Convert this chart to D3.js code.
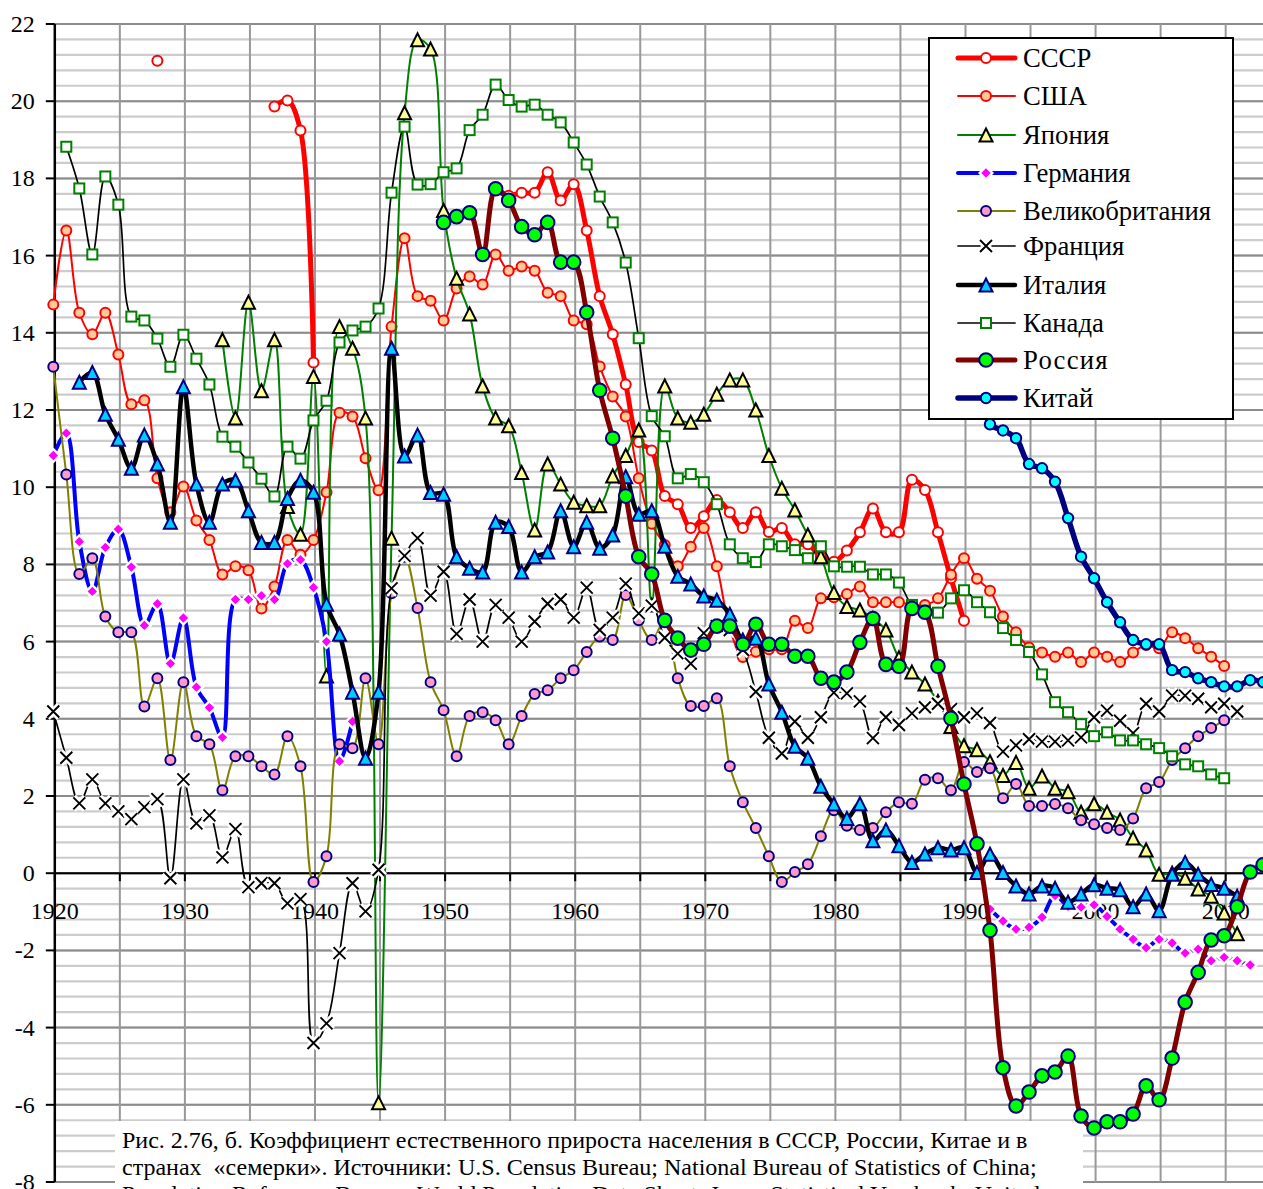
<!DOCTYPE html>
<html>
<head>
<meta charset="utf-8">
<script src="https://cdn.jsdelivr.net/npm/d3@7"></script>
<style>
  html, body { margin: 0; padding: 0; background: #fff; overflow: hidden; }
  text { font-family: "Liberation Serif", "Times New Roman", serif; fill: #000; }
  .caption { white-space: pre; }
</style>
</head>
<body>
<div id="chart"></div>
<script>
var nulls = function (n) { return Array(n).fill(null); };

// every array starts in firstYear, null = no data for that year
var firstYear = 1920;
var lastYear = 2013;

var ussr = [...nulls(8), 21.05, ...nulls(8), 19.86, 20.02, 19.24, 13.23, ...nulls(13),
  17.7, 17.55, 17.63, 17.63, 18.16, 17.43, 17.85, 16.65, 14.95, 13.96, 12.66, 11.17, 10.95,
  9.77, 9.56, 8.94, 9.25, 9.67, 9.35, 8.94, 9.35, 8.84, 8.94, 8.52, 8.52, 8.2, 8.07,
  8.36, 8.83, 9.45, 8.83, 8.83, 10.19, 9.93, 8.83, 7.64, 6.54];

var usa = [14.73, 16.65, 14.52, 13.96, 14.52, 13.44, 12.15, 12.25, 10.23, 9.35,
  10.02, 9.14, 8.63, 7.74, 7.95, 7.85, 6.86, 7.43, 8.63, 8.25,
  8.63, 9.87, 11.93, 11.83, 10.75, 9.92, 14.16, 16.45, 14.95, 14.83,
  14.32, 15.15, 15.46, 15.25, 16.03, 15.61, 15.72, 15.61, 15.04, 14.95,
  14.32, 14.22, 13.13, 12.35, 11.83, 10.23, 9.05, 8.5, 7.95, 8.46,
  8.94, 7.95, 6.35, 5.6, 5.74, 5.8, 5.8, 6.54, 6.35, 7.12,
  7.15, 7.23, 7.43, 7.02, 7.02, 7.02, 6.95, 6.95, 7.12, 7.73,
  8.16, 7.63, 7.32, 6.65, 6.24, 5.85, 5.72, 5.61, 5.72, 5.47,
  5.72, 5.61, 5.47, 5.72, 5.91, 5.83, 6.24, 6.09, 5.83, 5.61, 5.37];

var japan = [...nulls(13), 13.82, 11.79, 14.79, 12.5, 13.82, 9.5, 8.78,
  12.87, 5.11, 14.16, 13.6, 11.79, -5.95, 8.68, 19.7, 21.59, 21.35,
  17.17, 15.41, 14.49, 12.62, 11.79, 11.59, 10.38, 8.89, 10.6, 10.08,
  9.61, 9.52, 9.52, 10.29, 10.82, 11.48, 6.95, 12.62, 11.79, 11.68,
  11.89, 12.41, 12.78, 12.78, 12.0, 10.82, 9.97, 9.41, 8.76, 8.2,
  7.27, 6.91, 6.82, 6.6, 6.3, 5.58, 5.21, 4.9, 4.45, 3.8,
  3.3, 3.2, 2.89, 2.53, 2.87, 2.2, 2.52, 2.2, 2.11, 1.58,
  1.8, 1.58, 1.38, 0.91, 0.6, -0.03, 0.0, -0.13, -0.41, -0.6, -1.03, -1.57];

var germany = [10.82, 11.4, 8.59, 7.3, 8.44, 8.91, 7.93, 6.42, 6.98, 5.43,
  6.61, 4.82, 4.29, 3.52, 7.09, 7.09, 7.19, 7.09, 8.02, 8.12,
  7.4, 6.0, 2.9, 3.93, ...nulls(48),
  -0.93, -1.24, -1.45, -1.4, -1.14, -0.58, -0.86, -0.88,
  -0.82, -1.12, -1.45, -1.71, -1.93, -1.71, -1.81, -2.07, -1.97, -2.27,
  -2.18, -2.27, -2.38];

var britain = [13.12, 10.33, 7.75, 8.16, 6.65, 6.24, 6.24, 4.32, 5.05, 2.93,
  4.95, 3.55, 3.34, 2.15, 3.03, 3.03, 2.77, 2.56, 3.55, 2.77,
  -0.23, 0.44, 3.34, 3.24, 5.05, 3.34, 7.25, 8.2, 6.87, 4.95,
  4.22, 3.03, 4.07, 4.17, 3.96, 3.34, 4.07, 4.64, 4.74, 5.05,
  5.26, 5.73, 6.13, 6.04, 7.21, 6.55, 6.04, 6.55, 5.05, 4.33,
  4.33, 4.53, 2.77, 1.84, 1.17, 0.44, -0.23, 0.03, 0.23, 0.96,
  1.63, 1.23, 1.12, 1.17, 1.58, 1.84, 1.8, 2.42, 2.46, 2.15,
  2.88, 2.62, 2.72, 1.94, 2.31, 1.74, 1.74, 1.79, 1.68, 1.37,
  1.27, 1.17, 1.12, 1.42, 2.2, 2.36, 2.93, 3.24, 3.55, 3.76, 3.96];

var france = [4.19, 2.99, 1.81, 2.43, 1.81, 1.6, 1.4, 1.71, 1.92, -0.13,
  2.43, 1.29, 1.5, 0.41, 1.14, -0.36, -0.26, -0.26, -0.78, -0.67,
  -4.4, -3.89, -2.07, -0.26, -0.99, 0.09, 7.38, 8.22, 8.68, 7.19,
  7.81, 6.2, 7.09, 6.0, 6.95, 6.62, 6.0, 6.52, 6.98, 7.09,
  6.62, 7.4, 6.3, 6.62, 7.5, 6.73, 6.93, 6.1, 5.69, 5.43,
  6.22, 6.4, 6.3, 5.79, 4.7, 3.51, 3.1, 3.93, 3.51, 4.04,
  4.68, 4.66, 4.45, 3.5, 4.04, 3.84, 4.14, 4.3, 4.39, 4.25,
  4.04, 4.14, 3.89, 3.15, 3.31, 3.47, 3.41, 3.41, 3.44, 3.52,
  4.04, 4.21, 3.95, 3.63, 4.39, 4.19, 4.6, 4.6, 4.52, 4.3, 4.39, 4.19];

var italy = [null, null, 12.72, 12.97, 11.89, 11.24, 10.49, 11.35, 10.6, 9.09,
  12.6, 10.08, 9.09, 10.08, 10.18, 9.39, 8.57, 8.57, 9.71, 10.18,
  9.87, 6.97, 6.19, 4.69, 2.98, 4.69, 13.6, 10.81, 11.35, 9.86,
  9.82, 8.2, 7.9, 7.8, 9.09, 8.98, 7.8, 8.2, 8.32, 9.39,
  8.46, 9.09, 8.42, 8.76, 10.27, 9.3, 9.39, 8.47, 7.69, 7.49,
  7.18, 7.07, 6.71, 6.04, 6.09, 4.9, 4.17, 3.29, 2.98, 2.25,
  1.79, 1.42, 1.8, 0.84, 1.12, 0.71, 0.28, 0.5, 0.66, 0.6,
  0.66, 0.02, 0.49, 0.02, -0.33, -0.54, -0.33, -0.39, -0.75, -0.54,
  -0.3, -0.39, -0.43, -0.87, -0.54, -0.97, -0.03, 0.28, -0.03, -0.29, -0.39, -0.6];

var canada = [null, 18.82, 17.74, 16.03, 18.05, 17.32, 14.42, 14.32, 13.85, 13.12,
  13.95, 13.33, 12.66, 11.31, 11.05, 10.64, 10.22, 9.76, 11.05, 10.74,
  11.73, 12.24, 13.75, 14.06, 14.16, 14.63, 17.63, 19.34, 17.84, 17.85,
  18.16, 18.26, 19.25, 19.65, 20.43, 20.03, 19.86, 19.91, 19.65, 19.45,
  18.93, 18.36, 17.53, 16.86, 15.82, 13.86, 11.84, 11.32, 10.23, 10.34,
  10.13, 9.56, 8.52, 8.16, 8.06, 8.52, 8.47, 8.37, 8.16, 8.47,
  7.95, 7.94, 7.94, 7.74, 7.74, 7.53, 6.95, 6.8, 6.75, 7.12,
  7.33, 7.02, 6.76, 6.35, 6.04, 5.73, 5.15, 4.43, 4.17, 3.86,
  3.55, 3.65, 3.44, 3.44, 3.34, 3.24, 3.03, 2.82, 2.77, 2.56, 2.46];

var russia = [...nulls(30),
  16.86, 17.01, 17.11, 16.03, 17.73, 17.43, 16.75, 16.54, 16.86, 15.83,
  15.83, 14.53, 12.51, 11.27, 9.77, 8.2, 7.75, 6.55, 6.09, 5.78,
  5.93, 6.4, 6.4, 5.93, 6.45, 5.93, 5.93, 5.62, 5.62, 5.05,
  4.95, 5.21, 5.98, 6.6, 5.41, 5.36, 6.86, 6.76, 5.36, 4.01,
  2.31, 0.76, -1.48, -5.04, -6.03, -5.67, -5.25, -5.15, -4.74, -6.29,
  -6.6, -6.44, -6.44, -6.24, -5.51, -5.87, -4.79, -3.34, -2.57, -1.73,
  -1.62, -0.87, 0.03, 0.22];

var china = [...nulls(71), 12.98, 11.63, 11.47, 11.27, 10.6, 10.49, 10.14, 9.2, 8.2,
  7.64, 7.02, 6.5, 6.04, 5.93, 5.93, 5.26, 5.21, 5.05, 4.95,
  4.84, 4.84, 5.0, 4.95];

var captionLines = [
  'Рис. 2.76, б. Коэффициент естественного прироста населения в СССР, России, Китае и в',
  'странах  «семерки». Источники: U.S. Census Bureau; National Bureau of Statistics of China;',
  'Population Reference Bureau; World Population Data Sheet; Japan Statistical Yearbook; United'
];

// drawing order is the legend order
var seriesList = [
  {name: 'СССР', values: ussr, line: '#ff0000', lw: 5, marker: 'circle', r: 5, fill: '#ffffff', edge: '#ff0000'},
  {name: 'США', values: usa, line: '#ff0000', lw: 2, marker: 'circle', r: 5, fill: '#ffcc99', edge: '#ff0000'},
  {name: 'Япония', values: japan, line: '#008000', lw: 2, marker: 'triangle', r: 6.5, fill: '#ffff99', edge: '#000000'},
  {name: 'Германия', values: germany, line: '#0000ff', lw: 4, marker: 'diamond', r: 4.7, fill: '#ff00ff', edge: 'none'},
  {name: 'Великобритания', values: britain, line: '#808000', lw: 2, marker: 'circle', r: 5, fill: '#ff99cc', edge: '#000080'},
  {name: 'Франция', values: france, line: '#000000', lw: 1.7, marker: 'cross', r: 6, fill: 'none', edge: '#000000'},
  {name: 'Италия', values: italy, line: '#000000', lw: 4.5, marker: 'triangle', r: 6.5, fill: '#00ccff', edge: '#000080'},
  {name: 'Канада', values: canada, line: '#000000', lw: 1.7, marker: 'square', r: 5, fill: '#ffffff', edge: '#008000'},
  {name: 'Россия', values: russia, line: '#800000', lw: 5, marker: 'circle', r: 6.8, fill: '#00ff00', edge: '#000080'},
  {name: 'Китай', values: china, line: '#000080', lw: 5.5, marker: 'circle', r: 5.2, fill: '#00ffff', edge: '#000080'}
];

var width = 1263;
var height = 1189;
var gridShift = 1.5;

var svg = d3.select('#chart').append('svg')
  .attr('width', width)
  .attr('height', height)
  .style('display', 'block');

var x = d3.scaleLinear().domain([firstYear, lastYear]).range([53.3, 1263.2]);
var y = d3.scaleLinear().domain([-8, 22]).range([1182, 24]);

// grid
var grid = svg.append('g');
grid.selectAll('.minor')
  .data(d3.range(-8, 22.01, 0.4).map(function (d) { return +d.toFixed(1); }))
  .enter().append('line')
  .attr('x1', x(firstYear) + gridShift).attr('x2', width)
  .attr('y1', function (d) { return y(d); }).attr('y2', function (d) { return y(d); })
  .attr('stroke', '#cccccc').attr('stroke-width', 2.2);
grid.selectAll('.major')
  .data(d3.range(-8, 23, 2))
  .enter().append('line')
  .attr('x1', x(firstYear) + gridShift).attr('x2', width)
  .attr('y1', function (d) { return y(d); }).attr('y2', function (d) { return y(d); })
  .attr('stroke', '#8c8c8c').attr('stroke-width', 2);
grid.selectAll('.vert')
  .data(d3.range(1925, 2011, 5))
  .enter().append('line')
  .attr('x1', function (d) { return x(d) + gridShift; }).attr('x2', function (d) { return x(d) + gridShift; })
  .attr('y1', y(22)).attr('y2', y(-8))
  .attr('stroke', '#999999').attr('stroke-width', 2);

// axes
var yAxis = d3.axisLeft(y)
  .tickValues(d3.range(-8, 23, 2))
  .tickFormat(function (d) { return String(d); })
  .tickSize(9)
  .tickPadding(11)
  .tickSizeOuter(0)
  .offset(0);
var yAxisG = svg.append('g')
  .attr('transform', 'translate(' + (x(firstYear) + gridShift) + ',0)')
  .call(yAxis);
yAxisG.selectAll('line').attr('stroke', '#000').attr('stroke-width', 2);
yAxisG.select('.domain').attr('stroke', '#000').attr('stroke-width', 2.5);
yAxisG.selectAll('text').style('font-size', '24px').style('font-family', '"Liberation Serif"').attr('dy', '0.33em');

var xAxis = d3.axisBottom(x)
  .tickValues(d3.range(1920, 2011, 5))
  .tickFormat(function (d) { return d % 10 === 0 ? d : ''; })
  .tickSize(8)
  .tickPadding(21)
  .tickSizeOuter(0)
  .offset(0);
var xAxisG = svg.append('g')
  .attr('transform', 'translate(' + gridShift + ',' + y(0) + ')')
  .call(xAxis);
xAxisG.selectAll('line').attr('stroke', '#000').attr('stroke-width', 2);
xAxisG.select('.domain').attr('stroke', '#000').attr('stroke-width', 2);
xAxisG.selectAll('text').style('font-size', '24px').style('font-family', '"Liberation Serif"').attr('dy', '0.71em');

// caption sits on a white box over the grid
var captionTop = 1121;
svg.append('rect')
  .attr('x', 115).attr('y', captionTop)
  .attr('width', 968).attr('height', height - captionTop)
  .attr('fill', '#fff');
svg.selectAll('.caption')
  .data(captionLines)
  .enter().append('text')
  .attr('class', 'caption')
  .attr('x', 122)
  .attr('y', function (d, i) { return 1148 + i * 27; })
  .style('font-size', '24px')
  .text(function (d) { return d; });

var lineGen = d3.line()
  .defined(function (d) { return d.value !== null; })
  .x(function (d) { return x(d.year); })
  .y(function (d) { return y(d.value); })
  .curve(d3.curveCatmullRom.alpha(0.5));

function drawMarker(g, s, cx, cy) {
  var r = s.r;
  if (s.marker === 'circle') {
    g.append('circle').attr('cx', cx).attr('cy', cy).attr('r', r)
      .attr('fill', s.fill).attr('stroke', s.edge).attr('stroke-width', 2);
  } else if (s.marker === 'square') {
    g.append('rect').attr('x', cx - r).attr('y', cy - r).attr('width', 2 * r).attr('height', 2 * r)
      .attr('fill', s.fill).attr('stroke', s.edge).attr('stroke-width', 2);
  } else if (s.marker === 'triangle') {
    g.append('path')
      .attr('d', 'M' + cx + ',' + (cy - r) + 'L' + (cx + r) + ',' + (cy + r) + 'L' + (cx - r) + ',' + (cy + r) + 'Z')
      .attr('fill', s.fill).attr('stroke', s.edge).attr('stroke-width', 2);
  } else if (s.marker === 'diamond') {
    // white halo cuts the line around the point
    g.append('path')
      .attr('d', 'M' + cx + ',' + (cy - 8) + 'L' + (cx + 8) + ',' + cy + 'L' + cx + ',' + (cy + 8) + 'L' + (cx - 8) + ',' + cy + 'Z')
      .attr('fill', '#fff');
    g.append('path')
      .attr('d', 'M' + cx + ',' + (cy - r) + 'L' + (cx + r) + ',' + cy + 'L' + cx + ',' + (cy + r) + 'L' + (cx - r) + ',' + cy + 'Z')
      .attr('fill', s.fill);
  } else if (s.marker === 'cross') {
    var d = 'M' + (cx - r) + ',' + (cy - r) + 'L' + (cx + r) + ',' + (cy + r) +
      'M' + (cx + r) + ',' + (cy - r) + 'L' + (cx - r) + ',' + (cy + r);
    g.append('path').attr('d', d).attr('stroke', '#fff').attr('stroke-width', 7).attr('fill', 'none');
    g.append('path').attr('d', d).attr('stroke', s.edge).attr('stroke-width', 1.9).attr('fill', 'none');
  }
}

// series
seriesList.forEach(function (s) {
  var points = s.values.map(function (v, i) { return {year: firstYear + i, value: v}; });
  var g = svg.append('g');
  g.append('path')
    .attr('d', lineGen(points))
    .attr('fill', 'none')
    .attr('stroke', s.line)
    .attr('stroke-width', s.lw)
    .attr('stroke-linejoin', 'round')
    .attr('stroke-linecap', 'round');
  points.filter(function (p) { return p.value !== null; }).forEach(function (p) {
    drawMarker(g, s, x(p.year), y(p.value));
  });
});

// legend
var legendRows = [58, 96, 135, 173, 211, 246, 285, 323, 360, 398];
var legend = svg.append('g');
legend.append('rect')
  .attr('x', 929).attr('y', 38)
  .attr('width', 304).attr('height', 381)
  .attr('fill', '#fff').attr('stroke', '#000').attr('stroke-width', 2);
seriesList.forEach(function (s, i) {
  var ly = legendRows[i];
  legend.append('line')
    .attr('x1', 958).attr('x2', 1015)
    .attr('y1', ly).attr('y2', ly)
    .attr('stroke', s.line).attr('stroke-width', s.lw)
    .attr('stroke-linecap', 'round');
  drawMarker(legend, s, 986, ly);
  legend.append('text')
    .attr('x', 1023).attr('y', ly + 9)
    .style('font-size', '26.7px')
    .style('letter-spacing', s.name === 'Россия' ? '1.2px' : null)
    .text(s.name);
});
</script>
</body>
</html>
